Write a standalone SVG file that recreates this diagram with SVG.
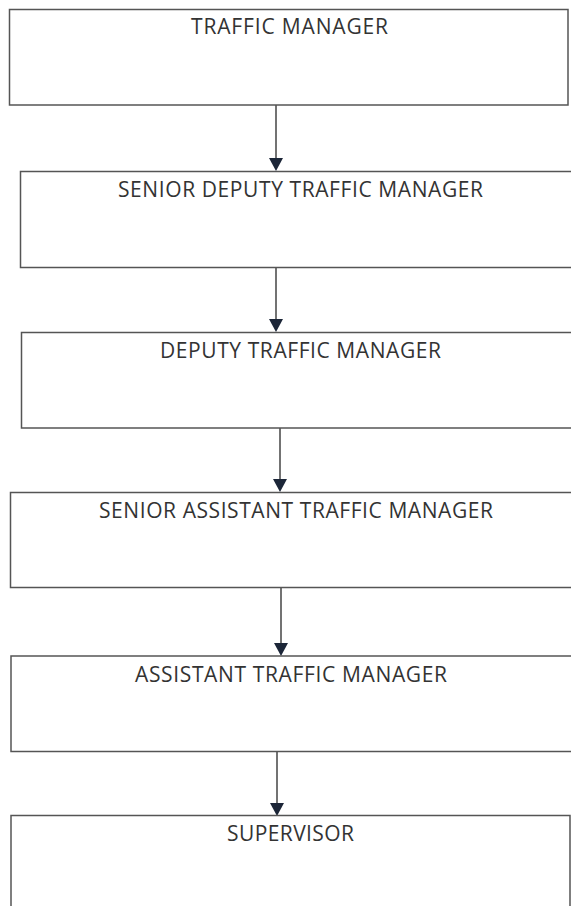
<svg xmlns="http://www.w3.org/2000/svg" width="571" height="906" viewBox="0 0 571 906">
<style>
.box{fill:#fff;stroke:#555;stroke-width:1.5}
.lbl{font-family:"Open Sans","Liberation Sans",sans-serif;font-size:21px;fill:#333;text-anchor:middle}
.con{stroke:#444;stroke-width:1.5;fill:none}
.head{fill:#1c2638}
</style>
<rect width="571" height="906" fill="#fff"/>
<g id="connectors">
<line class="con" x1="276" y1="105" x2="276" y2="158"/>
<line class="con" x1="276" y1="267" x2="276" y2="319"/>
<line class="con" x1="280" y1="428" x2="280" y2="479"/>
<line class="con" x1="281" y1="588" x2="281" y2="643"/>
<line class="con" x1="277" y1="752" x2="277" y2="803"/>
<path class="head" d="M269,158 L283,158 L276,171 Z"/>
<path class="head" d="M269,319 L283,319 L276,332 Z"/>
<path class="head" d="M273,479 L287,479 L280,492 Z"/>
<path class="head" d="M274,643 L288,643 L281,656 Z"/>
<path class="head" d="M270,803 L284,803 L277,816 Z"/>
</g>
<g id="n1"><rect class="box" x="9.5" y="9.5" width="558.5" height="95.5"/><text class="lbl" x="289.5" y="34" textLength="197">TRAFFIC MANAGER</text></g>
<g id="n2"><rect class="box" x="20.5" y="171.5" width="560" height="96"/><text class="lbl" x="300.5" y="197" textLength="365">SENIOR DEPUTY TRAFFIC MANAGER</text></g>
<g id="n3"><rect class="box" x="21.5" y="332.5" width="560" height="95.5"/><text class="lbl" x="300.5" y="358" textLength="281">DEPUTY TRAFFIC MANAGER</text></g>
<g id="n4"><rect class="box" x="10.5" y="492.5" width="570" height="95"/><text class="lbl" x="296" y="518" textLength="394">SENIOR ASSISTANT TRAFFIC MANAGER</text></g>
<g id="n5"><rect class="box" x="11" y="656" width="570" height="95.5"/><text class="lbl" x="291" y="682" textLength="312">ASSISTANT TRAFFIC MANAGER</text></g>
<g id="n6"><rect class="box" x="11" y="815.5" width="559" height="110"/><text class="lbl" x="290.5" y="841" textLength="127">SUPERVISOR</text></g>
</svg>
